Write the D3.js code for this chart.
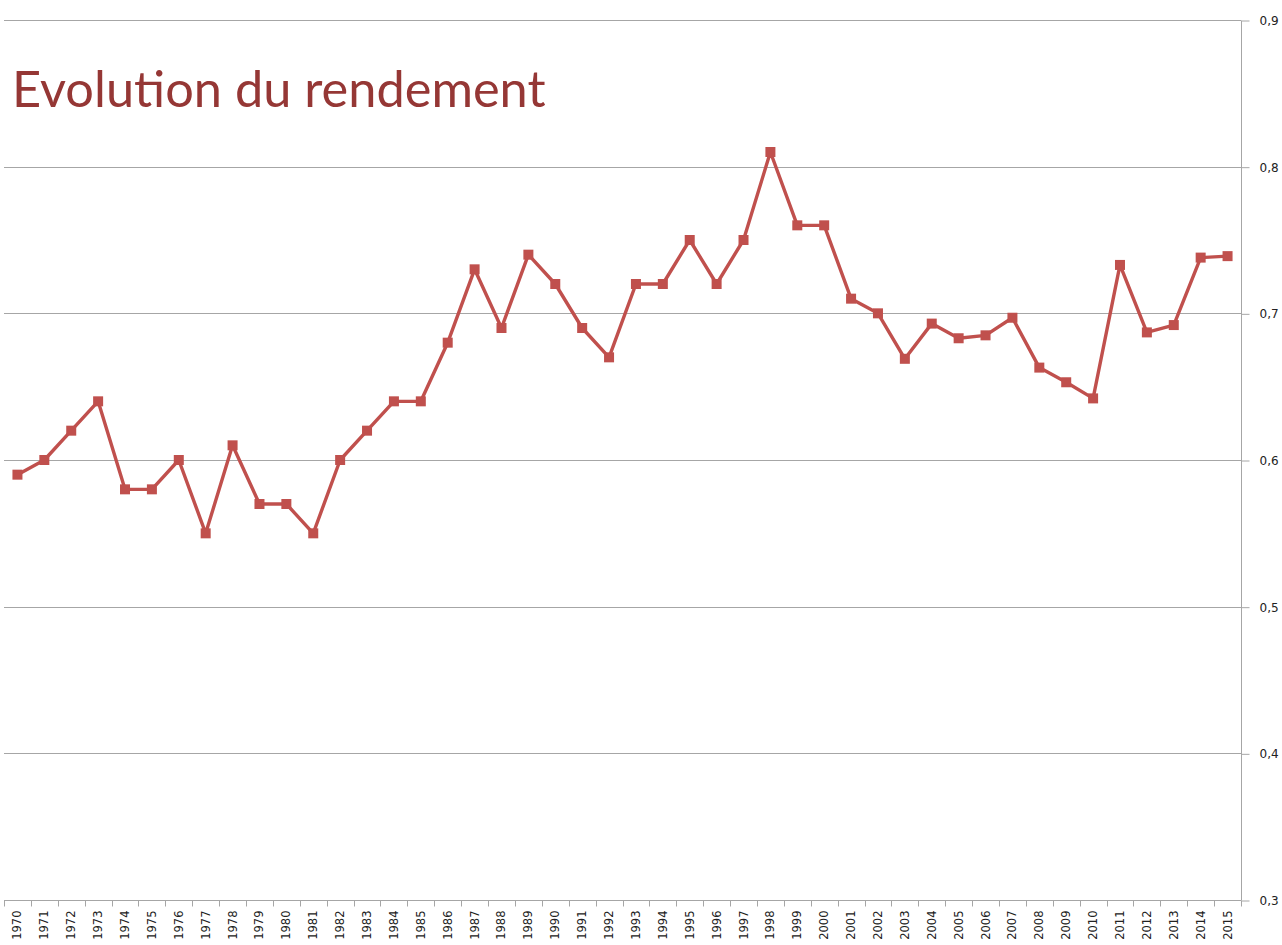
<!DOCTYPE html>
<html>
<head>
<meta charset="utf-8">
<script src="https://cdn.jsdelivr.net/npm/d3@7"></script>
<style>
  body { margin: 0; background: #fff; }
  svg { display: block; }
  .grid line { stroke: #a6a6a6; stroke-width: 1; }
  .axis path, .axis line { stroke: #a6a6a6; }
  .axis text { fill: #222; font-family: "DejaVu Sans", sans-serif; font-size: 11.5px; }
  .title { fill: #953735; font-family: Lato, "Open Sans", sans-serif; font-size: 50.5px; }
</style>
</head>
<body>
<script>
(function(){

//chart data
var years = d3.range(1970, 2016).map(String);
var rendement = [0.59, 0.60, 0.62, 0.64, 0.58, 0.58, 0.60, 0.55, 0.61, 0.57,
                 0.57, 0.55, 0.60, 0.62, 0.64, 0.64, 0.68, 0.73, 0.69, 0.74,
                 0.72, 0.69, 0.67, 0.72, 0.72, 0.75, 0.72, 0.75, 0.81, 0.76,
                 0.76, 0.71, 0.70, 0.669, 0.693, 0.683, 0.685, 0.697, 0.663, 0.653,
                 0.642, 0.733, 0.687, 0.692, 0.738, 0.739];
var yTicks = [0.3, 0.4, 0.5, 0.6, 0.7, 0.8, 0.9];

//frame dimensions
var width = 1282, height = 945,
    left = 4, right = 1241, top = 20, bottom = 900;

var svg = d3.select("body").append("svg")
    .attr("width", width)
    .attr("height", height);

var x = d3.scaleBand()
    .domain(years)
    .range([left, right]);

var y = d3.scaleLinear()
    .domain([0.3, 0.9])
    .range([bottom, top]);

//horizontal gridlines
svg.append("g")
    .attr("class", "grid")
    .selectAll("line")
    .data(yTicks)
    .enter()
    .append("line")
    .attr("x1", left)
    .attr("x2", right)
    .attr("y1", function(d){ return Math.round(y(d)) + 0.5; })
    .attr("y2", function(d){ return Math.round(y(d)) + 0.5; });

//right value axis
var yAxis = d3.axisRight(y)
    .tickValues(yTicks)
    .tickSize(8)
    .tickPadding(10)
    .tickFormat(function(d){ return d3.format(".1f")(d).replace(".", ","); });

svg.append("g")
    .attr("class", "axis")
    .attr("transform", "translate(" + (right + 0.5) + ",0.5)")
    .call(yAxis)
    .call(function(g){ g.select(".domain").attr("d", "M0," + top + "V" + bottom); })
    .selectAll("text").style("font-size", "12px");

//bottom category axis with ticks between categories
var xAxisG = svg.append("g")
    .attr("class", "axis")
    .attr("transform", "translate(0," + (bottom + 0.5) + ")");

xAxisG.append("path")
    .attr("d", "M" + left + ",0H" + right)
    .attr("fill", "none");

xAxisG.selectAll(".tk")
    .data(years.concat(["end"]))
    .enter()
    .append("line")
    .attr("class", "tk")
    .attr("x1", function(d, i){ return Math.round(left + i * x.step()) + 0.5; })
    .attr("x2", function(d, i){ return Math.round(left + i * x.step()) + 0.5; })
    .attr("y1", 0)
    .attr("y2", 6);

xAxisG.selectAll("text")
    .data(years)
    .enter()
    .append("text")
    .attr("transform", function(d){
        return "translate(" + (x(d) + x.bandwidth() / 2 + 4) + ",10) rotate(-90)";
    })
    .attr("text-anchor", "end")
    .text(function(d){ return d; });

//line
var line = d3.line()
    .x(function(d, i){ return x(years[i]) + x.bandwidth() / 2; })
    .y(function(d){ return y(d); });

svg.append("path")
    .datum(rendement)
    .attr("fill", "none")
    .attr("stroke", "#C0504D")
    .attr("stroke-width", 3.4)
    .attr("stroke-linejoin", "round")
    .attr("d", line);

//square markers
var ms = 10;
svg.selectAll(".marker")
    .data(rendement)
    .enter()
    .append("rect")
    .attr("class", "marker")
    .attr("x", function(d, i){ return x(years[i]) + x.bandwidth() / 2 - ms / 2; })
    .attr("y", function(d){ return y(d) - ms / 2; })
    .attr("width", ms)
    .attr("height", ms)
    .attr("fill", "#C0504D");

//title
svg.append("text")
    .attr("class", "title")
    .attr("x", 12)
    .attr("y", 107)
    .text("Evolution du rendement");

})();
</script>
</body>
</html>
